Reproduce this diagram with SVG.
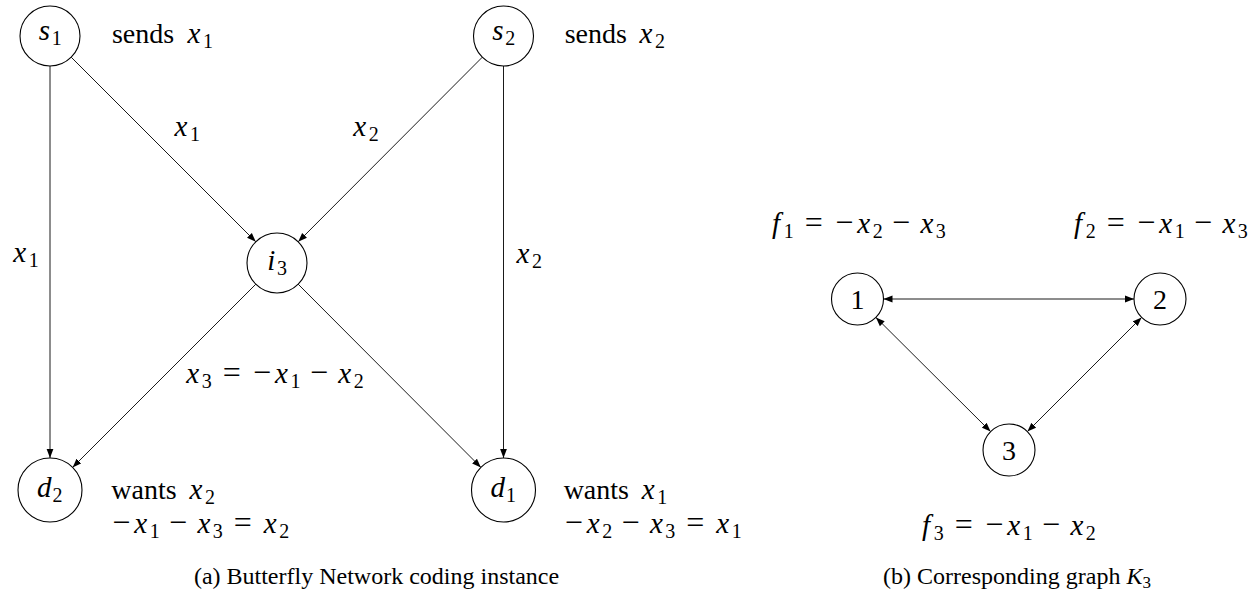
<svg xmlns="http://www.w3.org/2000/svg" width="1260" height="592" viewBox="0 0 1260 592">
<style>
text{font-family:'Liberation Serif','Times New Roman',serif;fill:#000;font-size:28px;text-anchor:middle}
.i{font-style:italic;font-size:29px}
.s{font-size:20px}
.o{font-size:32px}
.cap{font-size:24px}
.nd circle{fill:#fff;stroke:#000;stroke-width:1.1}
.e{fill:none;stroke:#000;stroke-width:0.9}
.a{marker-end:url(#ah)}
.b{marker-start:url(#ah);marker-end:url(#ah)}
</style>
<defs>
<marker id="ah" markerUnits="userSpaceOnUse" markerWidth="10" markerHeight="8" refX="9" refY="4" orient="auto-start-reverse">
<path d="M0,0.6 L9,4 L0,7.4 Z" fill="#000"/>
</marker>
</defs>
<rect width="1260" height="592" fill="#fff"/>

<g id="connectors">
<path class="e a" d="M50,66 L50,458"/>
<path class="e a" d="M71.2,57.2 L255.8,241.8"/>
<path class="e a" d="M482.3,57.2 L298.2,241.8"/>
<path class="e a" d="M503.5,66 L503.5,458"/>
<path class="e a" d="M255.8,284.2 L72.6,467.4"/>
<path class="e a" d="M298.2,284.2 L480.9,467.4"/>
<path class="e b" d="M883.5,299 L1134,299"/>
<path class="e b" d="M875.9,317.4 L990.6,431.6"/>
<path class="e b" d="M1141.6,317.4 L1027.4,431.6"/>
</g>

<g id="node-s1" class="nd"><circle cx="50" cy="36" r="30"/>
<text><tspan class="i" x="44.3" y="40">s</tspan><tspan class="s" x="56.8" y="45">1</tspan></text></g>
<g id="node-s2" class="nd"><circle cx="503.5" cy="36" r="30"/>
<text><tspan class="i" x="497.8" y="40">s</tspan><tspan class="s" x="510.3" y="45">2</tspan></text></g>
<g id="node-i3" class="nd"><circle cx="277" cy="263" r="30"/>
<text><tspan class="i" x="271.3" y="270">i</tspan><tspan class="s" x="282" y="275">3</tspan></text></g>
<g id="node-d2" class="nd"><circle cx="50" cy="490" r="32"/>
<text><tspan class="i" x="44.3" y="497">d</tspan><tspan class="s" x="57.5" y="502">2</tspan></text></g>
<g id="node-d1" class="nd"><circle cx="503.5" cy="490" r="32"/>
<text><tspan class="i" x="497.8" y="497">d</tspan><tspan class="s" x="511" y="502">1</tspan></text></g>

<g id="node-1" class="nd"><circle cx="857.5" cy="299" r="26"/><text x="857.5" y="308.5">1</text></g>
<g id="node-2" class="nd"><circle cx="1160" cy="299" r="26"/><text x="1160" y="308.5">2</text></g>
<g id="node-3" class="nd"><circle cx="1009" cy="450" r="26"/><text x="1009" y="459.5">3</text></g>

<g id="labels">
<text><tspan x="143" y="43">sends</tspan><tspan class="i" x="194" y="43">x</tspan><tspan class="s" x="208" y="48">1</tspan></text>
<text><tspan x="595.8" y="43">sends</tspan><tspan class="i" x="646" y="43">x</tspan><tspan class="s" x="660" y="48">2</tspan></text>

<text><tspan class="i" x="181" y="136">x</tspan><tspan class="s" x="195" y="141">1</tspan></text>
<text><tspan class="i" x="359.7" y="136">x</tspan><tspan class="s" x="373.7" y="141">2</tspan></text>
<text><tspan class="i" x="19.7" y="262">x</tspan><tspan class="s" x="33.7" y="267">1</tspan></text>
<text><tspan class="i" x="523" y="263">x</tspan><tspan class="s" x="537" y="268">2</tspan></text>

<text><tspan class="i" x="192.75" y="383">x</tspan><tspan class="s" x="206.75" y="388">3</tspan><tspan class="o" x="231.7" y="383">=</tspan><tspan class="o" x="262.1" y="383">−</tspan><tspan class="i" x="281.55" y="383">x</tspan><tspan class="s" x="295.55" y="388">1</tspan><tspan class="o" x="318.9" y="383">−</tspan><tspan class="i" x="344.75" y="383">x</tspan><tspan class="s" x="358.75" y="388">2</tspan></text>

<text><tspan x="144" y="499">wants</tspan><tspan class="i" x="196" y="499">x</tspan><tspan class="s" x="210" y="504">2</tspan></text>
<text><tspan class="o" x="121.2" y="533">−</tspan><tspan class="i" x="140.65" y="533">x</tspan><tspan class="s" x="154.65" y="538">1</tspan><tspan class="o" x="178" y="533">−</tspan><tspan class="i" x="203.85" y="533">x</tspan><tspan class="s" x="217.85" y="538">3</tspan><tspan class="o" x="242.8" y="533">=</tspan><tspan class="i" x="270.25" y="533">x</tspan><tspan class="s" x="284.25" y="538">2</tspan></text>

<text><tspan x="596.3" y="499">wants</tspan><tspan class="i" x="648.3" y="499">x</tspan><tspan class="s" x="662.3" y="504">1</tspan></text>
<text><tspan class="o" x="573.7" y="533">−</tspan><tspan class="i" x="593.15" y="533">x</tspan><tspan class="s" x="607.15" y="538">2</tspan><tspan class="o" x="630.5" y="533">−</tspan><tspan class="i" x="656.35" y="533">x</tspan><tspan class="s" x="670.35" y="538">3</tspan><tspan class="o" x="695.3" y="533">=</tspan><tspan class="i" x="722.75" y="533">x</tspan><tspan class="s" x="736.75" y="538">1</tspan></text>

<text><tspan class="i" x="776" y="233">f</tspan><tspan class="s" x="788.85" y="238">1</tspan><tspan class="o" x="813.8" y="233">=</tspan><tspan class="o" x="844.2" y="233">−</tspan><tspan class="i" x="863.65" y="233">x</tspan><tspan class="s" x="877.65" y="238">2</tspan><tspan class="o" x="901" y="233">−</tspan><tspan class="i" x="926.85" y="233">x</tspan><tspan class="s" x="940.85" y="238">3</tspan></text>
<text><tspan class="i" x="1078" y="233">f</tspan><tspan class="s" x="1090.85" y="238">2</tspan><tspan class="o" x="1115.8" y="233">=</tspan><tspan class="o" x="1146.2" y="233">−</tspan><tspan class="i" x="1165.65" y="233">x</tspan><tspan class="s" x="1179.65" y="238">1</tspan><tspan class="o" x="1203" y="233">−</tspan><tspan class="i" x="1228.85" y="233">x</tspan><tspan class="s" x="1242.85" y="238">3</tspan></text>
<text><tspan class="i" x="926" y="535">f</tspan><tspan class="s" x="938.85" y="540">3</tspan><tspan class="o" x="963.8" y="535">=</tspan><tspan class="o" x="994.2" y="535">−</tspan><tspan class="i" x="1013.65" y="535">x</tspan><tspan class="s" x="1027.65" y="540">1</tspan><tspan class="o" x="1051" y="535">−</tspan><tspan class="i" x="1076.85" y="535">x</tspan><tspan class="s" x="1090.85" y="540">2</tspan></text>

<text class="cap" x="376.5" y="584">(a) Butterfly Network coding instance</text>
<text class="cap" x="1017" y="584">(b) Corresponding graph <tspan font-style="italic">K</tspan><tspan font-size="17" dy="4">3</tspan></text>
</g>
</svg>
